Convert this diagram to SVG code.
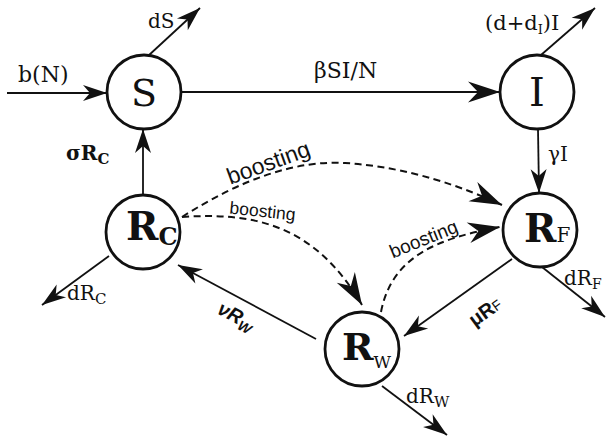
<svg xmlns="http://www.w3.org/2000/svg" width="606" height="436" viewBox="0 0 606 436">
  <style>
    .node { fill: #fff; stroke: #111; stroke-width: 2.8; }
    .flow { fill: none; stroke: #111; stroke-width: 1.8; }
    .boost { fill: none; stroke: #111; stroke-width: 2; stroke-dasharray: 7 4.5; }
    .serif { font-family: "DejaVu Serif", "Liberation Serif", serif; fill: #111; }
    .sans { font-family: "Liberation Sans", Arial, sans-serif; fill: #111; }
  </style>
  <defs>
    <marker id="head" viewBox="-26 -9 28 18" refX="0" refY="0" markerUnits="userSpaceOnUse" markerWidth="28" markerHeight="18" orient="auto" overflow="visible">
      <path d="M0,0 L-24,-8 L-17,0 L-24,8 Z" fill="#111"/>
    </marker>
    <marker id="bighead" viewBox="-34 -12 36 24" refX="0" refY="0" markerUnits="userSpaceOnUse" markerWidth="36" markerHeight="24" orient="auto" overflow="visible">
      <path d="M0,0 L-32,-10.5 L-22,0 L-32,10.5 Z" fill="#111"/>
    </marker>
  </defs>

  <!-- compartments -->
  <g id="S">
    <circle class="node" cx="144" cy="92" r="37"/>
    <text class="serif" x="144" y="106" font-size="38" text-anchor="middle">S</text>
  </g>
  <g id="I">
    <circle class="node" cx="537" cy="92" r="37"/>
    <text class="serif" x="537" y="106" font-size="40" text-anchor="middle">I</text>
  </g>
  <g id="RC">
    <circle class="node" cx="143" cy="232" r="37"/>
    <text class="serif" x="126" y="240" font-size="39" font-weight="bold">R<tspan font-size="24" dy="5">C</tspan></text>
  </g>
  <g id="RF">
    <circle class="node" cx="540" cy="230" r="37"/>
    <text class="serif" x="524" y="242" font-size="39" font-weight="bold">R<tspan font-size="20" font-weight="normal">F</tspan></text>
  </g>
  <g id="RW">
    <circle class="node" cx="362" cy="349" r="37"/>
    <text class="serif" x="342" y="360" font-size="38" font-weight="bold">R<tspan font-size="17" font-weight="normal" dy="8">W</tspan></text>
  </g>

  <!-- flows between compartments -->
  <g id="connectors">
    <path class="flow" d="M7,93 L107,93" marker-end="url(#head)"/>
    <path class="flow" d="M148,56 L200,8" marker-end="url(#head)"/>
    <path class="flow" d="M181,92 L500,92" marker-end="url(#bighead)"/>
    <path class="flow" d="M541,55 L595,8" marker-end="url(#head)"/>
    <path class="flow" d="M538,129 L539,193" marker-end="url(#head)"/>
    <path class="flow" d="M143,195 L143,129" marker-end="url(#head)"/>
    <path class="flow" d="M109,256 L42,305" marker-end="url(#head)"/>
    <path class="flow" d="M542,267 L605,317" marker-end="url(#head)"/>
    <path class="flow" d="M512,259 L404,336" marker-end="url(#head)"/>
    <path class="flow" d="M316,339 L178,265" marker-end="url(#head)"/>
    <path class="flow" d="M382,386 L447,435" marker-end="url(#head)"/>

    <path class="boost" d="M182,217 C240,180 295,160 345,163 C410,167 465,188 502,205" marker-end="url(#bighead)"/>
    <path class="boost" d="M182,217 C255,212 315,225 362,305" marker-end="url(#bighead)"/>
    <path class="boost" d="M381,312 C392,255 440,238 500,227" marker-end="url(#bighead)"/>
  </g>

  <!-- rate labels -->
  <g id="labels">
    <text class="serif" x="18" y="82" font-size="22">b(N)</text>
    <text class="serif" x="148" y="28" font-size="20">dS</text>
    <text class="serif" x="314" y="78" font-size="22">βSI/N</text>
    <text class="serif" x="485" y="30" font-size="21">(d+d<tspan font-size="13" dy="4">I</tspan><tspan dy="-4">)I</tspan></text>
    <text class="serif" x="548" y="161" font-size="20">γI</text>
    <text class="serif" x="66" y="160" font-size="20" font-weight="bold">σR<tspan font-size="15" dy="4">C</tspan></text>
    <text class="serif" x="67" y="300" font-size="20">dR<tspan font-size="15" dy="4">C</tspan></text>
    <text class="serif" x="564" y="285" font-size="20">dR<tspan font-size="14" dy="4">F</tspan></text>
    <text class="serif" x="406" y="403" font-size="20">dR<tspan font-size="15" dy="4">W</tspan></text>
    <text class="sans" transform="translate(233,322) rotate(28)" font-size="20" font-weight="bold" font-style="italic" text-anchor="middle">νR<tspan font-size="14" dy="4">W</tspan></text>
    <text class="sans" transform="translate(489,317) rotate(-36)" font-size="20" font-weight="bold" text-anchor="middle">μR<tspan font-size="14" font-weight="normal">F</tspan></text>
    <text class="sans" transform="translate(271,170) rotate(-20)" font-size="23" text-anchor="middle">boosting</text>
    <text class="sans" transform="translate(262,217) rotate(6)" font-size="17.5" text-anchor="middle">boosting</text>
    <text class="sans" transform="translate(426,245) rotate(-22)" font-size="19" text-anchor="middle">boosting</text>
  </g>
</svg>
